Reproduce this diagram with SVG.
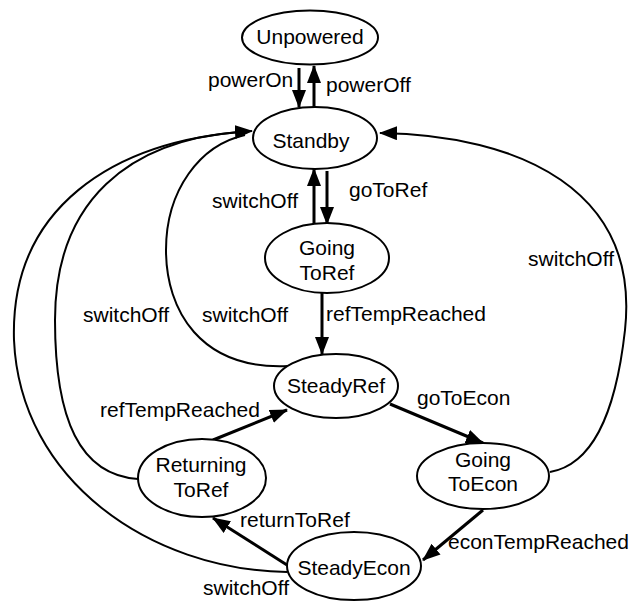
<svg xmlns="http://www.w3.org/2000/svg" width="633" height="601" viewBox="0 0 633 601">
<style>
.st{fill:#fff;stroke:#000;stroke-width:2}
text{font-family:"Liberation Sans",Arial,sans-serif;font-size:21px;fill:#000}
.c{text-anchor:middle}
.a{fill:none;stroke:#000;stroke-width:3;marker-end:url(#ah)}
.cv{fill:none;stroke:#000;stroke-width:2}
</style>
<defs>
<marker id="ah" markerUnits="userSpaceOnUse" markerWidth="18" markerHeight="14" refX="17" refY="7" orient="auto">
<path d="M0,0 L18,7 L0,14 z" fill="#000"/>
</marker>
</defs>
<g id="connectors">
<path class="a" d="M299,68 L299,107"/>
<path class="a" d="M314,107 L314,66"/>
<path class="a" d="M314,226 L314,169"/>
<path class="a" d="M327,171 L327,224"/>
<path class="a" d="M322,293 L322,354"/>
<path class="a" d="M390,404 L483,443"/>
<path class="a" d="M483,510 L423,560"/>
<path class="a" d="M287,565 L213,518"/>
<path class="a" d="M213,440 L287,410"/>
<path class="cv" d="M287,572 C150,570 20,480 14,340 C10,210 110,140 252,131" marker-end="url(#ah)"/>
<path class="cv" d="M138,479 C80,475 55,420 55,320 C55,200 130,140 240,132"/>
<path class="cv" d="M288,366 C200,370 166,310 166,250 C166,190 200,145 245,135"/>
<path class="cv" d="M550,472 C590,465 615,420 625,330 C640,190 520,135 380,133" marker-end="url(#ah)"/>
</g>
<g id="Unpowered"><ellipse class="st" cx="310" cy="37.5" rx="68" ry="27"/><text class="c" x="310" y="44">Unpowered</text></g>
<g id="Standby"><ellipse class="st" cx="315" cy="138" rx="62" ry="31"/><text class="c" x="311" y="148">Standby</text></g>
<g id="GoingToRef"><ellipse class="st" cx="327" cy="258" rx="62" ry="35"/><text class="c" x="327" y="255">Going</text><text class="c" x="327" y="280">ToRef</text></g>
<g id="SteadyRef"><ellipse class="st" cx="336" cy="386" rx="62" ry="32"/><text class="c" x="336" y="393">SteadyRef</text></g>
<g id="GoingToEcon"><ellipse class="st" cx="483" cy="476" rx="66" ry="33"/><text class="c" x="483" y="467">Going</text><text class="c" x="483" y="491">ToEcon</text></g>
<g id="SteadyEcon"><ellipse class="st" cx="354" cy="566" rx="67" ry="34"/><text class="c" x="354" y="575">SteadyEcon</text></g>
<g id="ReturningToRef"><ellipse class="st" cx="202" cy="478" rx="64" ry="39"/><text class="c" x="201" y="472">Returning</text><text class="c" x="201" y="497">ToRef</text></g>
<g id="labels">
<text x="208" y="87">powerOn</text>
<text x="326" y="92">powerOff</text>
<text x="349" y="197">goToRef</text>
<text x="212" y="208">switchOff</text>
<text x="326" y="321">refTempReached</text>
<text x="83" y="322">switchOff</text>
<text x="202" y="322">switchOff</text>
<text x="528" y="266">switchOff</text>
<text x="417" y="405">goToEcon</text>
<text x="100" y="417">refTempReached</text>
<text x="240" y="527">returnToRef</text>
<text x="448" y="549">econTempReached</text>
<text x="203" y="595">switchOff</text>
</g>
</svg>
